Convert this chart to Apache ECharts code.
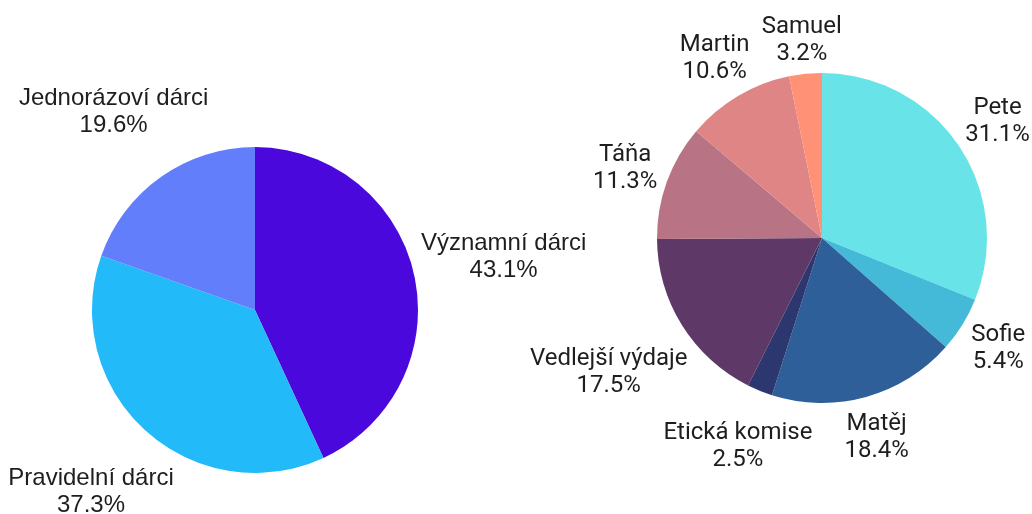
<!DOCTYPE html>
<html><head><meta charset="utf-8">
<script src="https://cdn.jsdelivr.net/npm/echarts@6/dist/echarts.min.js"></script>
<style>html,body{margin:0;padding:0;background:#fff}#c{width:1032px;height:514px}</style>
</head><body><div id="c"></div>
<script>
const donorCategories = ['Významní dárci', 'Pravidelní dárci', 'Jednorázoví dárci'];
const donorValues = [43.1, 37.3, 19.6];
const donorColors = ['#4b08dc', '#23bafa', '#627efb'];

const spendCategories = ['Pete', 'Sofie', 'Matěj', 'Etická komise', 'Vedlejší výdaje', 'Táňa', 'Martin', 'Samuel'];
const spendValues = [31.1, 5.4, 18.4, 2.5, 17.5, 11.3, 10.6, 3.2];
const spendColors = ['#68e4e8', '#45b9d8', '#2e5f98', '#2d376f', '#5e3866', '#b87384', '#e08585', '#ff9177'];

function radialLabel(params) {
  const pts = params.labelLinePoints;
  if (!pts || pts.length < 2) return {};
  const p0 = pts[0], p1 = pts[1];
  let dx = p1[0] - p0[0], dy = p1[1] - p0[1];
  const len = Math.hypot(dx, dy) || 1;
  dx /= len; dy /= len;
  const w = params.labelRect.width, h = params.labelRect.height;
  const dist = 5 + Math.abs(dx) * w / 2 + Math.abs(dy) * h / 2;
  return {
    x: p0[0] + dx * dist,
    y: p0[1] + dy * dist + 2,
    align: 'center',
    verticalAlign: 'middle',
    labelLinePoints: [p0, p0, p0]
  };
}

function pieSeries(names, values, colors, center, radius, font) {
  return {
    type: 'pie',
    center: center,
    radius: radius,
    startAngle: 90,
    clockwise: true,
    avoidLabelOverlap: false,
    percentPrecision: 1,
    silent: true,
    emphasis: { disabled: true },
    itemStyle: { borderWidth: 0 },
    data: names.map((n, i) => ({ name: n, value: values[i], itemStyle: { color: colors[i] } })),
    label: {
      show: true,
      position: 'outside',
      formatter: '{b}\n{d}%',
      fontFamily: font,
      fontSize: 24,
      lineHeight: 27,
      color: '#1e1e1e'
    },
    labelLine: { show: true, length: 20, length2: 0, lineStyle: { opacity: 0, width: 0 } },
    labelLayout: radialLabel
  };
}

const chart = echarts.init(document.getElementById('c'), null, { renderer: 'canvas' });
chart.setOption({
  animation: false,
  backgroundColor: '#ffffff',
  series: [
    pieSeries(donorCategories, donorValues, donorColors, [255, 310], 163, 'Liberation Sans'),
    pieSeries(spendCategories, spendValues, spendColors, [822, 238], 165, 'Roboto')
  ]
});
</script>
</body></html>
